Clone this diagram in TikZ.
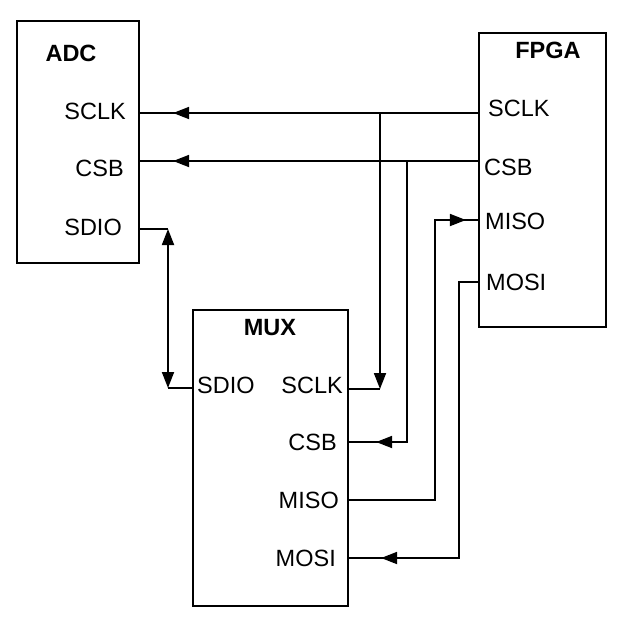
\documentclass[tikz,border=0pt]{standalone}
\usepackage{fontspec}
\setmainfont{Liberation Sans}
\usetikzlibrary{arrows.meta,positioning,calc,decorations.markings}

\tikzset{
  block/.style={draw,line width=2.2pt,inner sep=0pt},
  wire/.style={line width=1.8pt},
  pinlbl/.style={inner sep=0pt,font=\fontsize{23.5}{27}\selectfont},
  title/.style={inner sep=0pt,font=\fontsize{23.5}{27}\selectfont\bfseries},
  tip/.style={-{Triangle[length=16pt,width=12pt]}},
  tipat/.style={postaction={decorate,decoration={markings,
      mark=at position #1 with {\arrow{Triangle[length=16pt,width=12pt]}}}}}
}

\begin{document}
\begin{tikzpicture}[x=1pt,y=-1pt]
        \useasboundingbox (0,0) rectangle (626,625);
        % Blocks
        \node[block,minimum width=122pt,minimum height=242pt] (adc) at (78,142) {};
        \node[block,minimum width=127pt,minimum height=294pt] (fpga) at (542.5,180) {};
        \node[block,minimum width=155pt,minimum height=296pt] (mux) at (270.5,458) {};

        % Titles
        \node[title] (adc-t) at (71,53) {ADC};
        \node[title] (fpga-t) at (548,50) {FPGA};
        \node[title] (mux-t) at (270,328) {MUX};

        % ADC pins
        \node[pinlbl,anchor=east] (adc-sclk-l) at (126,111) {SCLK};
        \node[pinlbl,anchor=east] (adc-csb-l) at (124,168) {CSB};
        \node[pinlbl,anchor=east] (adc-sdio-l) at (122,227) {SDIO};
        \coordinate (adc-sclk) at (adc.east |- 0,113);
        \coordinate (adc-csb) at (adc.east |- 0,161);
        \coordinate (adc-sdio) at (adc.east |- 0,229);

        % FPGA pins
        \node[pinlbl,anchor=west] (fpga-sclk-l) at (488,108) {SCLK};
        \node[pinlbl,anchor=west] (fpga-csb-l) at (484,167) {CSB};
        \node[pinlbl,anchor=west] (fpga-miso-l) at (485,221) {MISO};
        \node[pinlbl,anchor=west] (fpga-mosi-l) at (486,282) {MOSI};
        \coordinate (fpga-sclk) at (fpga.west |- 0,113);
        \coordinate (fpga-csb) at (fpga.west |- 0,161);
        \coordinate (fpga-miso) at (fpga.west |- 0,220);
        \coordinate (fpga-mosi) at (fpga.west |- 0,282);

        % MUX pins
        \node[pinlbl,anchor=west] (mux-sdio-l) at (197,385) {SDIO};
        \node[pinlbl,anchor=east] (mux-sclk-l) at (343,385) {SCLK};
        \node[pinlbl,anchor=east] (mux-csb-l) at (337,442) {CSB};
        \node[pinlbl,anchor=east] (mux-miso-l) at (339,500) {MISO};
        \node[pinlbl,anchor=east] (mux-mosi-l) at (336,558) {MOSI};
        \coordinate (mux-sdio) at (mux.west |- 0,388);
        \coordinate (mux-sclk) at (mux.east |- 0,389);
        \coordinate (mux-csb) at (mux.east |- 0,442);
        \coordinate (mux-miso) at (mux.east |- 0,500);
        \coordinate (mux-mosi) at (mux.east |- 0,558);

        % Bends
        \coordinate (sclk-x) at (380,113);
        \coordinate (csb-x) at (407,161);
        \coordinate (miso-x) at (435,0);
        \coordinate (mosi-x) at (459,0);
        \coordinate (sdio-x) at (168,0);

        % Wires
        \draw[wire,tipat=-33pt] (fpga-sclk) -- (adc-sclk);
        \draw[wire,tipat=-33pt] (fpga-csb) -- (adc-csb);
        \draw[wire] (mux-sclk) -- (sclk-x |- mux-sclk);
        \draw[wire,tip] (sclk-x) -- (sclk-x |- mux-sclk);
        \draw[wire,tipat=-27pt] (csb-x) -- (csb-x |- mux-csb) -- (mux-csb);
        \draw[wire,tipat=-12pt] (mux-miso) -- (miso-x |- mux-miso) -- (miso-x |- fpga-miso) -- (fpga-miso);
        \draw[wire,tipat=-32pt] (fpga-mosi) -- (mosi-x |- fpga-mosi) -- (mosi-x |- mux-mosi) -- (mux-mosi);
        \draw[wire] (adc-sdio) -- (sdio-x |- adc-sdio);
        \draw[wire] (mux-sdio) -- (sdio-x |- mux-sdio);
        \draw[wire,{Triangle[length=16pt,width=12pt]}-{Triangle[length=16pt,width=12pt]}] (sdio-x |- adc-sdio) -- (sdio-x |- mux-sdio);
      \end{tikzpicture}
\end{document}
